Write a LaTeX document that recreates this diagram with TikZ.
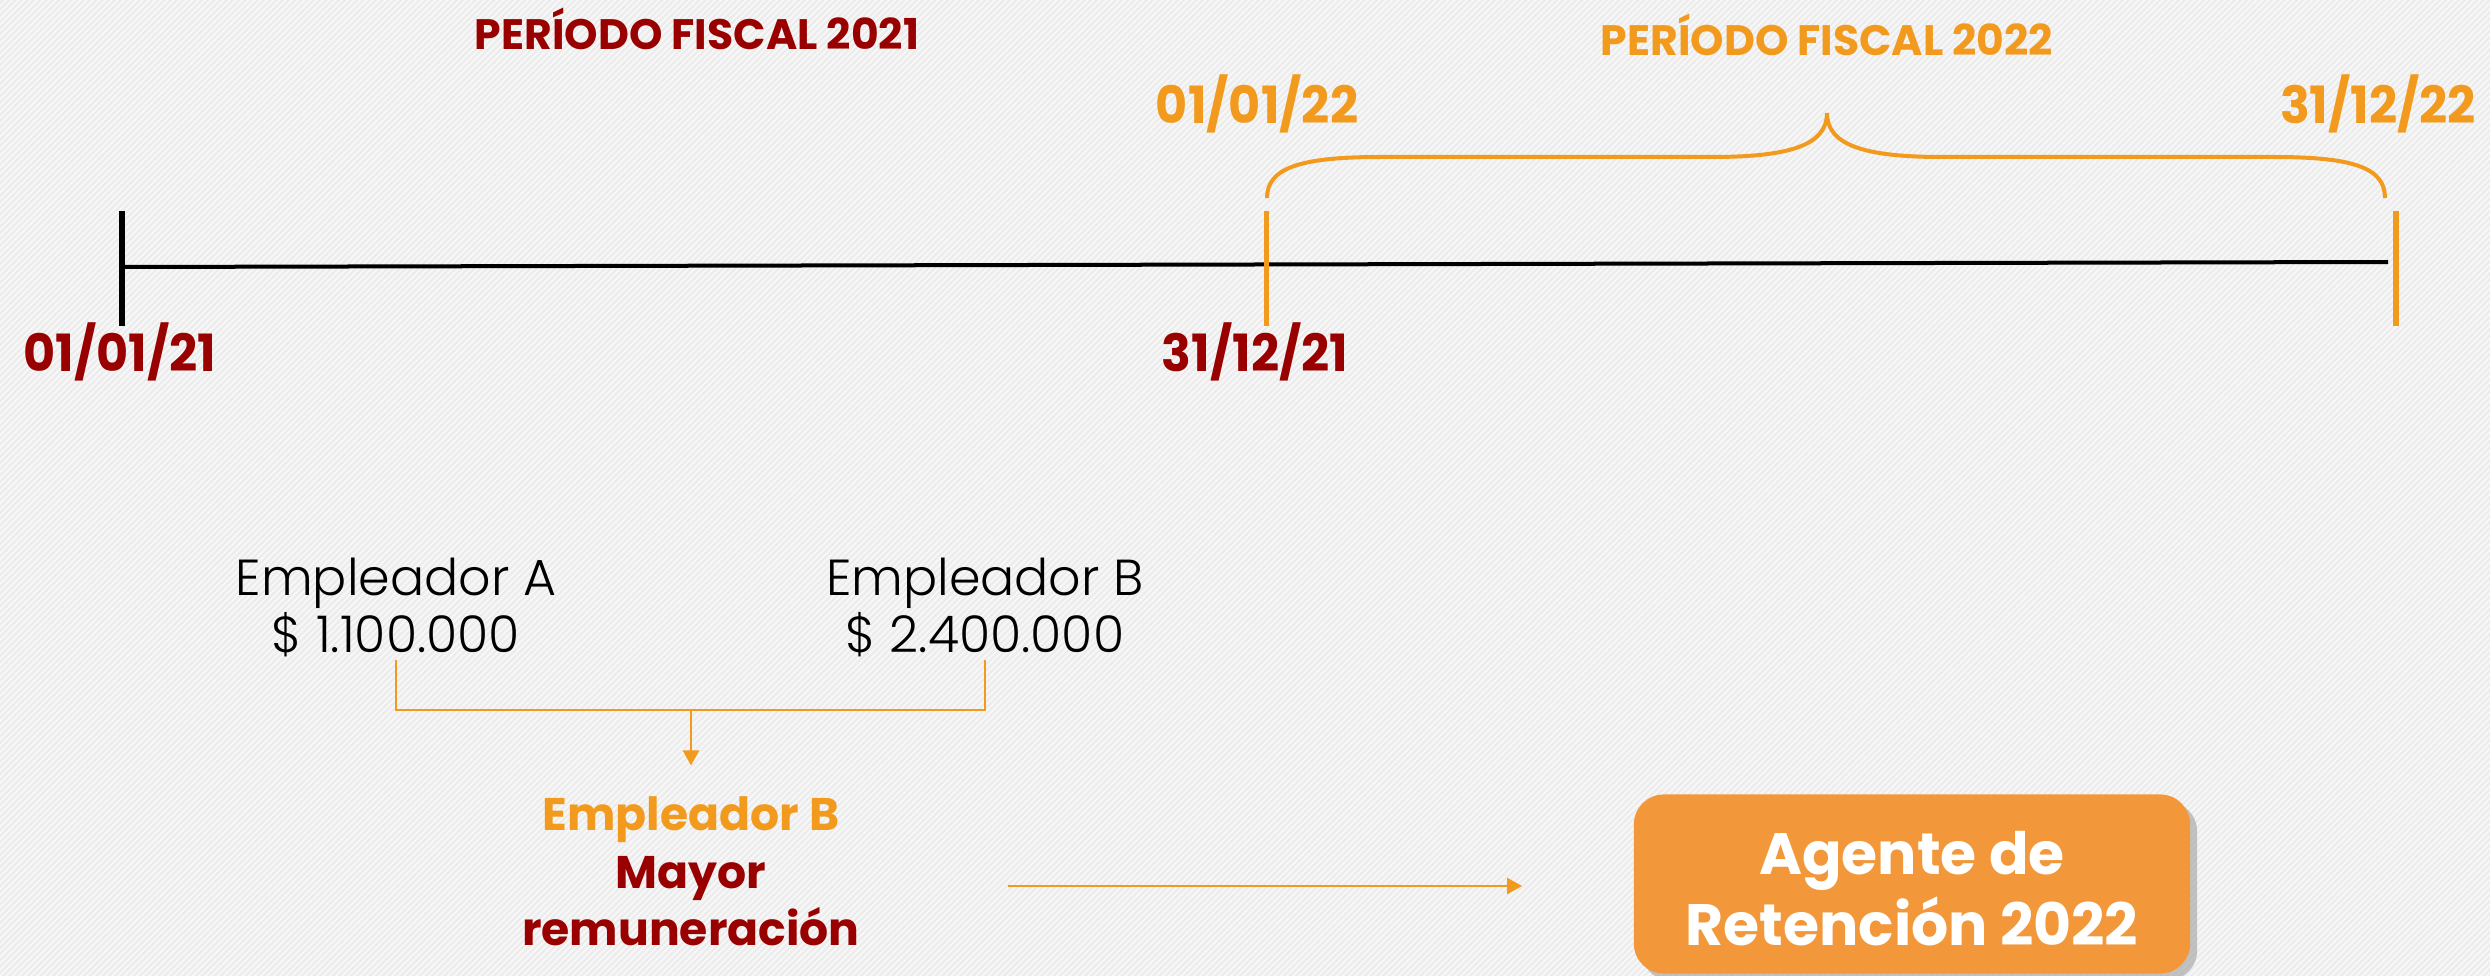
\documentclass[tikz,border=0pt]{standalone}
\usepackage{fontspec}
\setmainfont{Poppins}
\newfontfamily\lightfont{Poppins Light}
\newfontfamily\datefont{Poppins}[FakeStretch=0.96]
\usetikzlibrary{arrows.meta,patterns.meta,shadows}
\definecolor{dred}{RGB}{153,0,0}
\definecolor{orng}{RGB}{242,154,30}
\definecolor{boxfill}{RGB}{242,152,58}
\definecolor{bggray}{RGB}{236,236,236}
\definecolor{bgstripe}{RGB}{248,248,248}
\tikzset{
  txt/.style={inner sep=0pt, anchor=base},
  titlefont/.style={txt, font=\bfseries\fontsize{12.1}{14}\selectfont},
  datelbl/.style={txt, font=\datefont\bfseries\fontsize{14.6}{18}\selectfont},
  emplbl/.style={txt, font=\lightfont\fontsize{14.4}{17}\selectfont, text=black},
  grplbl/.style={txt, font=\bfseries\fontsize{13}{16}\selectfont},
  boxlbl/.style={txt, font=\bfseries\fontsize{16.6}{20}\selectfont, text=white},
  conn/.style={draw=orng, line width=0.025cm},
  tip/.style={-{Triangle[length=0.15cm,width=0.16cm]}},
  tick/.style={line width=0.06cm},
}
\begin{document}
\begin{tikzpicture}[x=0.01cm,y=-0.01cm]
\clip (0,0) rectangle (2490,976);
\fill[bggray] (0,0) rectangle (2490,976);
\fill[pattern={Lines[angle=45,distance=1.25pt,line width=0.55pt]},pattern color=bgstripe] (0,0) rectangle (2490,976);

% titles
\node[titlefont, text=dred] (p21) at (697,50) {PERÍODO FISCAL 2021};
\node[titlefont, text=orng] (p22) at (1827,56) {PERÍODO FISCAL 2022};

% dates
\node[datelbl, text=orng] (d1) at (1257,124) {01/01/22};
\node[datelbl, text=orng] (d2) at (2378,124) {31/12/22};
\node[datelbl, text=dred] (d3) at (120,371) {01/01/21};
\node[datelbl, text=dred] (d4) at (1255,371) {31/12/21};

% timeline
\coordinate (t0) at (122,267);
\coordinate (t1) at (2388,262);
\draw[line width=0.04cm] (t0) -- (t1);
\coordinate (k0a) at (122,211); \coordinate (k0b) at (122,326);
\coordinate (k1a) at (1266,211); \coordinate (k1b) at (1266,326);
\coordinate (k2a) at (2396,211); \coordinate (k2b) at (2396,326);
\draw[tick] (k0a) -- (k0b);
\draw[tick, draw=orng, line width=0.05cm] (k1a) -- (k1b);
\draw[tick, draw=orng] (k2a) -- (k2b);

% brace
\draw[orng, line width=0.04cm]
  (1267,198) .. controls (1267,168) and (1300,157) .. (1380,157)
  -- (1712,157) .. controls (1790,157) and (1827,145) .. (1827,113)
  .. controls (1827,145) and (1864,157) .. (1942,157)
  -- (2274,157) .. controls (2354,157) and (2385,168) .. (2385,198);

% employers
\node[emplbl] (eA) at (396,595) {Empleador A};
\node[emplbl] (amtA) at (396,652) {\$ 1.100.000};
\node[emplbl] (eB) at (985,595) {Empleador B};
\node[emplbl] (amtB) at (985,652) {\$ 2.400.000};

% result
\node[grplbl, text=orng] (rB) at (691,830) {Empleador B};
\node[grplbl, text=dred] (rM) at (691,888) {Mayor};
\node[grplbl, text=dred] (rR) at (691,945) {remuneración};

\coordinate (jm) at (691,710);
\draw[conn] ([yshift=-0.03cm]amtA.south) |- (jm) -| ([yshift=-0.03cm]amtB.south);
\draw[conn, tip, shorten >=0.30cm] (jm) -- (rB.north);

% box
\node[draw=none, fill=boxfill, rounded corners=0.3cm, minimum width=5.56cm, minimum height=1.79cm,
      drop shadow={shadow xshift=0.07cm, shadow yshift=-0.07cm, fill=black!40, opacity=0.55}]
      (agent) at (1912,884) {};
\node[boxlbl] (ag1) at (1912,874) {Agente de};
\node[boxlbl] (ag2) at (1912,945) {Retención 2022};

\coordinate (h0) at (1008,886);
\draw[conn, tip, shorten >=1.11cm] (h0) -- (h0 -| agent.west);
\end{tikzpicture}
\end{document}
